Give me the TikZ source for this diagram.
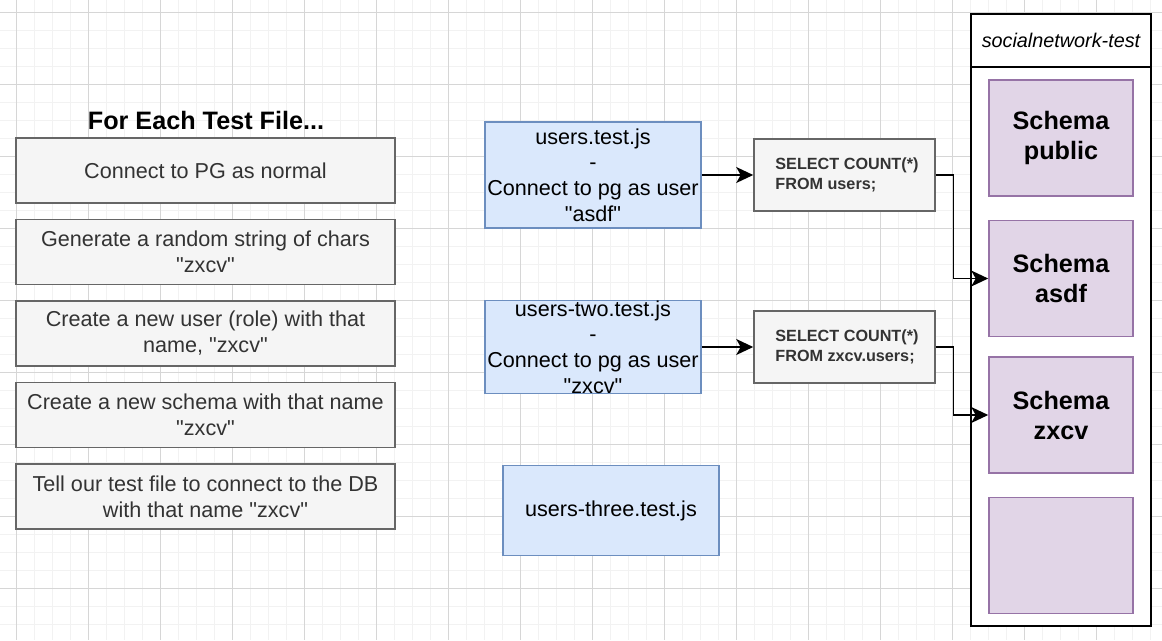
\documentclass[tikz,border=0pt]{standalone}
\usepackage{fontspec}
\setmainfont{Liberation Sans}[Ligatures=TeXOff]
\usetikzlibrary{arrows.meta}
\definecolor{gridminor}{HTML}{F2F2F2}
\definecolor{gridmajor}{HTML}{D6D6D6}
\definecolor{grayfill}{HTML}{F5F5F5}
\definecolor{graydraw}{HTML}{666666}
\definecolor{graytext}{HTML}{333333}
\definecolor{bluefill}{HTML}{DAE8FC}
\definecolor{bluedraw}{HTML}{6C8EBF}
\definecolor{purplefill}{HTML}{E1D5E7}
\definecolor{purpledraw}{HTML}{9673A6}
\begin{document}
\begin{tikzpicture}[x=1pt,y=-1pt,
  minorgrid/.style={gridminor,line width=1pt},
  majorgrid/.style={gridmajor,line width=1pt},
  graybox/.style={draw=graydraw,fill=grayfill,line width=1.6pt,text=graytext,
    font=\fontsize{21.6}{26}\selectfont,align=center,inner sep=0pt,
    minimum width=379pt,minimum height=65pt},
  bluebox/.style={draw=bluedraw,fill=bluefill,line width=1.6pt,text=black,
    font=\fontsize{21.6}{25.7}\selectfont,align=center,inner sep=0pt,
    minimum width=216pt},
  sqlbox/.style={draw=graydraw,fill=grayfill,line width=1.6pt,
    minimum width=181pt,minimum height=72pt,inner sep=0pt},
  sqltext/.style={text=graytext,font=\fontsize{16.2}{19.6}\selectfont\bfseries,
    align=left,inner sep=0pt},
  schemabox/.style={draw=purpledraw,fill=purplefill,line width=1.6pt,text=black,
    font=\fontsize{25.2}{30}\selectfont\bfseries,align=center,inner sep=0pt,
    minimum width=144pt,minimum height=116pt},
  container/.style={draw=black,fill=white,line width=1.8pt,inner sep=0pt,
    minimum width=180pt,minimum height=612pt},
  headerbox/.style={draw=black,line width=1.8pt,inner sep=0pt,
    minimum width=180pt,minimum height=53pt,
    font=\fontsize{19.8}{24}\selectfont\itshape},
  titletext/.style={font=\fontsize{25.2}{30}\selectfont\bfseries,text=black,inner sep=0pt},
  conn/.style={line width=1.6pt,draw=black,
    -{Stealth[length=17pt,width=16pt,inset=4.5pt]}}
]
\useasboundingbox (0,0) rectangle (1162,640);
\fill[white] (0,0) rectangle (1162,640);
% grid
\foreach \i in {0,...,63} \draw[minorgrid] ({16+18*\i},0) -- ({16+18*\i},640);
\foreach \j in {0,...,34} \draw[minorgrid] (0,{12.5+18*\j}) -- (1162,{12.5+18*\j});
\foreach \i in {0,...,15} \draw[majorgrid] ({16+72*\i},0) -- ({16+72*\i},640);
\foreach \j in {0,...,8} \draw[majorgrid] (0,{12.5+72*\j}) -- (1162,{12.5+72*\j});

% left column
\node[titletext] (title) at (206,120) {For Each Test File...};
\node[graybox] (s1) at (205.5,170.5) {Connect to PG as normal};
\node[graybox] (s2) at (205.5,252) {Generate a random string of chars\\"zxcv"};
\node[graybox] (s3) at (205.5,333.5) {Create a new user (role) with that\\name, "zxcv"};
\node[graybox] (s4) at (205.5,415) {Create a new schema with that name\\"zxcv"};
\node[graybox] (s5) at (205.5,496.5) {Tell our test file to connect to the DB\\with that name "zxcv"};

% test files
\node[bluebox,minimum height=106pt] (u1) at (593,175) {users.test.js\\-\\Connect to pg as user\\"asdf"};
\node[bluebox,minimum height=90pt] (u2) at (593,347) {users-two.test.js\\-\\Connect to pg as user\\"zxcv"};
\node[bluebox,minimum height=90pt] (u3) at (611,510.5) {users-three.test.js};

% queries
\node[sqlbox] (q1) at (844.5,175) {};
\node[sqltext,anchor=west] (q1t) at ([xshift=22pt]q1.west) {SELECT COUNT(*)\\FROM users;};
\node[sqlbox] (q2) at (844.5,347) {};
\node[sqltext,anchor=west] (q2t) at ([xshift=22pt]q2.west) {SELECT COUNT(*)\\FROM zxcv.users;};

% database container
\node[container] (db) at (1061,320) {};
\node[headerbox,anchor=north] (dbh) at (db.north) {socialnetwork-test};
\node[schemabox] (sp) at (1061,138) {Schema\\public};
\node[schemabox] (sa) at (1061,278.5) {Schema\\asdf};
\node[schemabox] (sz) at (1061,415) {Schema\\zxcv};
\node[schemabox] (se) at (1061,555.5) {};

% connectors
\draw[conn] (u1.east) -- (q1.west);
\draw[conn] (u2.east) -- (q2.west);
\draw[conn] (q1.east) -- ++(17.5,0) |- (sa.west);
\draw[conn] (q2.east) -- ++(17.5,0) |- (sz.west);
\end{tikzpicture}
\end{document}
